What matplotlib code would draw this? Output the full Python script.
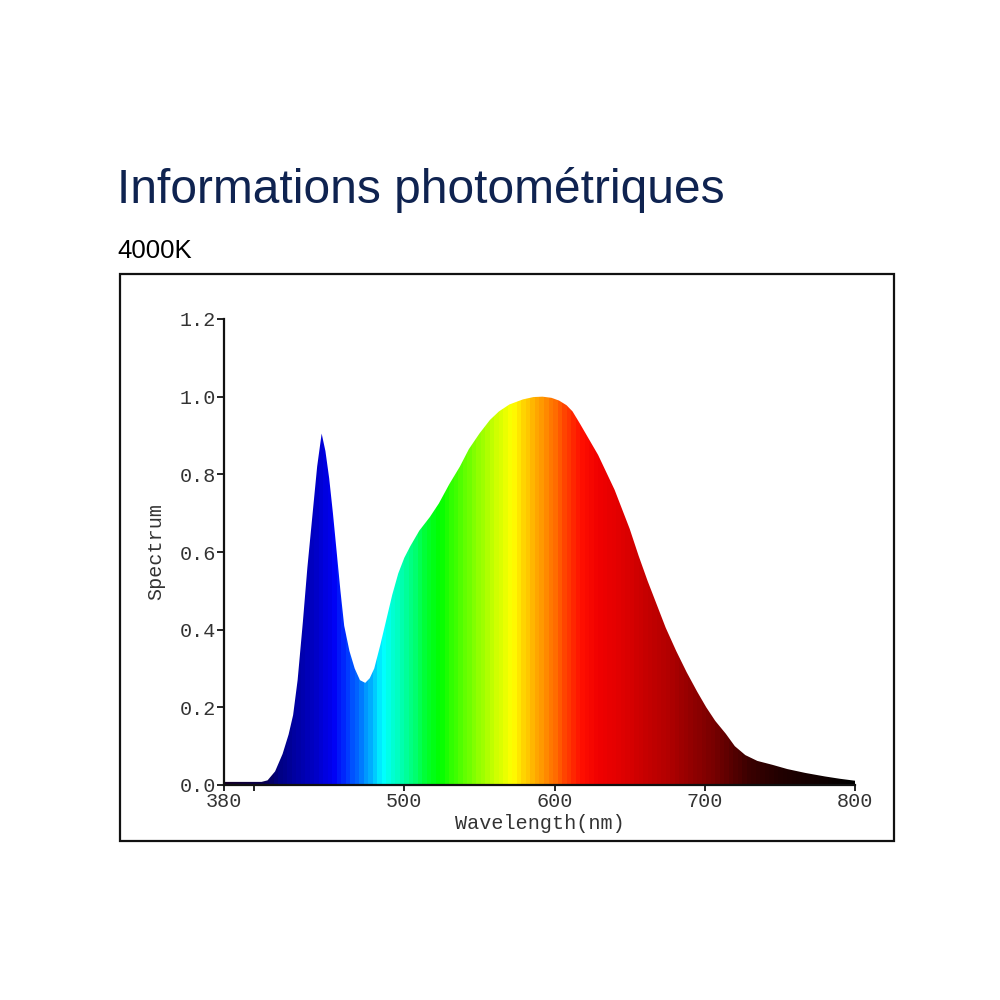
import numpy as np
import matplotlib
matplotlib.use("Agg")
import matplotlib.pyplot as plt
from matplotlib.colors import LinearSegmentedColormap
from matplotlib.patches import Rectangle

# ---------------------------------------------------------
# 1. Data (4000K LED)
# ---------------------------------------------------------
wavelength = [380, 390, 400, 405, 409, 414, 419, 423, 426, 429, 432.5, 435.5,
              438.5, 442, 445, 447.5, 450, 452.5, 455, 457.5, 460, 463.5, 467,
              470.5, 474, 477, 480, 484, 488, 492, 496, 500, 504, 510, 517,
              523, 530, 537, 543, 550, 557, 563, 570, 579, 586, 592, 598, 603,
              608, 612, 617, 623, 629, 634.5, 640, 645, 650, 656, 662, 668,
              674, 681, 688, 695, 701, 707, 714, 720, 727, 735, 745, 755, 767,
              780, 790, 798, 800]
spectrum = [0.008, 0.008, 0.008, 0.008, 0.012, 0.035, 0.08, 0.13, 0.18, 0.27,
            0.42, 0.56, 0.68, 0.82, 0.905, 0.86, 0.79, 0.70, 0.60, 0.50, 0.41,
            0.345, 0.30, 0.27, 0.263, 0.275, 0.30, 0.36, 0.425, 0.49, 0.545,
            0.585, 0.615, 0.655, 0.69, 0.725, 0.775, 0.82, 0.865, 0.905, 0.94,
            0.962, 0.98, 0.993, 0.999, 1.0, 0.997, 0.99, 0.978, 0.962, 0.93,
            0.89, 0.85, 0.805, 0.76, 0.71, 0.66, 0.59, 0.525, 0.465, 0.405,
            0.345, 0.29, 0.24, 0.20, 0.165, 0.132, 0.10, 0.077, 0.062, 0.052,
            0.041, 0.031, 0.022, 0.016, 0.012, 0.011]

x_ticks = [380, 400, 500, 600, 700, 800]
x_tick_labels = ["380", "", "500", "600", "700", "800"]
y_ticks = [0.0, 0.2, 0.4, 0.6, 0.8, 1.0, 1.2]

title = "Informations photométriques"
subtitle = "4000K"

# colour of the light at each wavelength (fill gradient)
color_nm = [380, 405, 415, 425, 440, 452, 460, 470, 478, 485, 495, 503, 515,
            523, 535, 548, 562, 572, 582, 590, 600, 610, 618, 630, 645, 660,
            675, 690, 707, 720, 730, 750, 775, 800]
color_rgb = [(20, 0, 40), (10, 0, 80), (0, 0, 130), (0, 0, 160), (0, 0, 200),
             (0, 0, 245), (0, 50, 255), (0, 120, 255), (0, 190, 255),
             (0, 255, 255), (0, 255, 190), (0, 255, 140), (0, 255, 40),
             (0, 255, 0), (70, 255, 0), (140, 255, 0), (210, 255, 0),
             (255, 255, 0), (255, 200, 0), (255, 160, 0), (255, 110, 0),
             (255, 50, 0), (255, 15, 0), (240, 0, 0), (225, 0, 0), (200, 0, 0),
             (180, 0, 0), (150, 0, 0), (120, 0, 0), (85, 0, 0), (60, 0, 0),
             (35, 0, 0), (18, 0, 0), (0, 0, 0)]

# ---------------------------------------------------------
# 2. Figure layout
# ---------------------------------------------------------
fig = plt.figure(figsize=(10, 10), dpi=100)
fig.patch.set_facecolor("white")

fig.text(0.117, 0.797, title, fontsize=34.5, color="#0f2350",
         family="Liberation Sans", ha="left", va="baseline")
fig.text(0.117, 0.742, subtitle, fontsize=18.5, color="black",
         family="Liberation Sans", ha="left", va="baseline")

# frame around the chart
fig.patches.append(Rectangle((0.120, 0.159), 0.774, 0.567, transform=fig.transFigure,
                             fill=False, edgecolor="#111111", linewidth=1.6))

ax = fig.add_axes([0.224, 0.215, 0.631, 0.466])
ax.set_xlim(380, 800)
ax.set_ylim(0, 1.2)

# ---------------------------------------------------------
# 3. Spectrum fill with wavelength colours
# ---------------------------------------------------------
lo, hi = color_nm[0], color_nm[-1]
cmap = LinearSegmentedColormap.from_list(
    "spec", [((n - lo) / (hi - lo), tuple(c / 255 for c in rgb))
             for n, rgb in zip(color_nm, color_rgb)], N=512)

strip = np.linspace(lo, hi, 140).reshape(1, -1)
im = ax.imshow(strip, cmap=cmap, vmin=lo, vmax=hi, aspect="auto",
               extent=[lo, hi, 0, 1.2], interpolation="nearest", zorder=1)
poly = ax.fill_between(wavelength, spectrum, 0, color="none", linewidth=0)
im.set_clip_path(poly.get_paths()[0], transform=ax.transData)

# ---------------------------------------------------------
# 4. Axes styling
# ---------------------------------------------------------
mono = "Liberation Mono"
for side in ["top", "right"]:
    ax.spines[side].set_visible(False)
for side in ["left", "bottom"]:
    ax.spines[side].set_linewidth(1.6)
    ax.spines[side].set_color("#111111")
    ax.spines[side].set_zorder(3)

ax.set_xticks(x_ticks)
ax.set_xticklabels(x_tick_labels)
ax.set_yticks(y_ticks)
ax.set_yticklabels([f"{v:.1f}" for v in y_ticks])
ax.tick_params(axis="x", direction="out", length=4, width=1.2, pad=1,
               labelsize=14.5, labelcolor="#333333")
ax.tick_params(axis="y", direction="out", length=5, width=1.2, pad=1,
               labelsize=14.5, labelcolor="#333333")
for lab in ax.get_xticklabels() + ax.get_yticklabels():
    lab.set_family(mono)

ax.set_xlabel("Wavelength(nm)", family=mono, fontsize=14.5, color="#333333", labelpad=2)
ax.set_ylabel("Spectrum", family=mono, fontsize=14.5, color="#333333", labelpad=10)

plt.savefig("out.png", dpi=100, facecolor="white")
plt.close()
